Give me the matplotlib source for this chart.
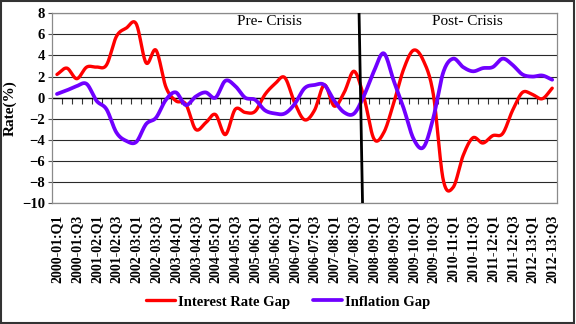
import numpy as np
import matplotlib
matplotlib.use("Agg")
import matplotlib.pyplot as plt
from matplotlib.patches import Rectangle

# Quarterly periods 2000-01:Q1 ... 2012-13:Q3
years = [f"{y}-{str(y + 1)[-2:]}" for y in range(2000, 2013)]
quarters = [f"{fy}:Q{q}" for fy in years for q in (1, 2, 3, 4)][:51]

interest_rate_gap = [
    2.2, 2.8, 1.8, 2.9, 2.9, 3.1, 5.8, 6.6, 7.0, 3.3,
    4.5, 1.0, -0.3, -0.6, -3.0, -2.4, -1.6, -3.5, -1.1, -1.4,
    -1.3, 0.3, 1.3, 1.9, -0.5, -2.1, -1.2, 1.2, -0.8, 0.5,
    2.5, 0.0, -3.9, -3.3, -0.5, 2.7, 4.5, 3.5, 0.3, -7.8,
    -8.5, -5.5, -3.8, -4.3, -3.6, -3.4, -1.2, 0.5, 0.3, -0.1,
    0.9,
]
inflation_gap = [
    0.35, 0.7, 1.1, 1.3, -0.3, -1.1, -3.3, -4.1, -4.2, -2.5,
    -1.9, -0.2, 0.5, -0.7, 0.1, 0.5, 0.0, 1.6, 1.1, 0.0,
    -0.2, -1.2, -1.5, -1.5, -0.6, 0.9, 1.2, 1.2, -0.3, -1.4,
    -1.5, 0.2, 2.5, 4.2, 1.6, -1.0, -3.9, -4.7, -1.9, 2.4,
    3.7, 2.9, 2.5, 2.8, 2.9, 3.7, 3.1, 2.2, 2.0, 2.1,
    1.7,
]


def smooth(y, steps=20):
    """Catmull-Rom curve through the points (like a spreadsheet smoothed line)."""
    y = np.asarray(y, float)
    x = np.arange(len(y), dtype=float)
    px = np.concatenate([[2 * x[0] - x[1]], x, [2 * x[-1] - x[-2]]])
    py = np.concatenate([[2 * y[0] - y[1]], y, [2 * y[-1] - y[-2]]])
    t = np.linspace(0, 1, steps, endpoint=False)
    xs, ys = [], []
    for i in range(1, len(px) - 2):
        for arr, out in ((px, xs), (py, ys)):
            p0, p1, p2, p3 = arr[i - 1], arr[i], arr[i + 1], arr[i + 2]
            out.append(0.5 * ((2 * p1) + (-p0 + p2) * t
                              + (2 * p0 - 5 * p1 + 4 * p2 - p3) * t ** 2
                              + (-p0 + 3 * p1 - 3 * p2 + p3) * t ** 3))
    xs.append([x[-1]])
    ys.append([y[-1]])
    return np.concatenate(xs), np.concatenate(ys)


serif = ["Liberation Serif", "DejaVu Serif"]
plt.rcParams["font.family"] = serif

fig = plt.figure(figsize=(5.76, 3.24), dpi=100)
ax = fig.add_axes([0.0903, 0.373, 0.877, 0.586])

n = len(quarters)
idx = np.arange(n)
ax.set_xlim(-0.5, n - 0.5)
ax.set_ylim(-10, 8)

# horizontal gridlines
ax.set_yticks(np.arange(-10, 9, 2))
ax.yaxis.grid(True, color="#2a2a2a", linewidth=0.8)
ax.set_axisbelow(True)
ax.axhline(0, color="black", linewidth=1.0, zorder=1)

for s in ax.spines.values():
    s.set_color("#8a8a8a")
    s.set_linewidth(0.9)

ax.tick_params(axis="y", length=3, color="#555555", pad=2)
for lab in ax.get_yticklabels():
    lab.set_fontweight("bold")
    lab.set_fontsize(10.5)

ax.set_xticks(idx[::2])
ax.set_xticklabels(quarters[::2], rotation=90, fontsize=10, fontweight="bold")
ax.tick_params(axis="x", length=0, pad=8)

# category tick marks on the zero line
sec = ax.secondary_xaxis(10 / 18)
sec.set_xticks(np.arange(0.5, n - 1, 1.0))
sec.tick_params(axis="x", direction="out", length=4, color="#333333",
                labelbottom=False, labeltop=False, bottom=True, top=False)
sec.spines["bottom"].set_visible(False)
sec.spines["top"].set_visible(False)

ax.set_ylabel("Rate(%)", fontsize=11, fontweight="bold", labelpad=4)

sx, sy = smooth(interest_rate_gap)
ax.plot(sx, sy, color="#ff0000", linewidth=2.4, solid_capstyle="round",
        label="Interest Rate Gap", zorder=3)
sx, sy = smooth(inflation_gap)
ax.plot(sx, sy, color="#7000ff", linewidth=2.7, solid_capstyle="round",
        label="Inflation Gap", zorder=3)

# crisis divider
ax.plot([30.5, 30.85], [8, -10], color="black", linewidth=2.0, zorder=4)
ax.text(21.5, 7.2, "Pre- Crisis", ha="center", va="center", fontsize=11)
ax.text(41.4, 7.2, "Post- Crisis", ha="center", va="center", fontsize=11)

fig.legend(loc="center", bbox_to_anchor=(0.5, 0.068), ncol=2, frameon=False,
           prop={"family": serif, "weight": "bold", "size": 10.5},
           handlelength=2.0, handletextpad=0.2, columnspacing=1.6)

fig.patches.append(Rectangle((0.002, 0.004), 0.995, 0.993, transform=fig.transFigure,
                             fill=False, edgecolor="#333333", linewidth=1.5))

fig.savefig("out.png", dpi=100)
